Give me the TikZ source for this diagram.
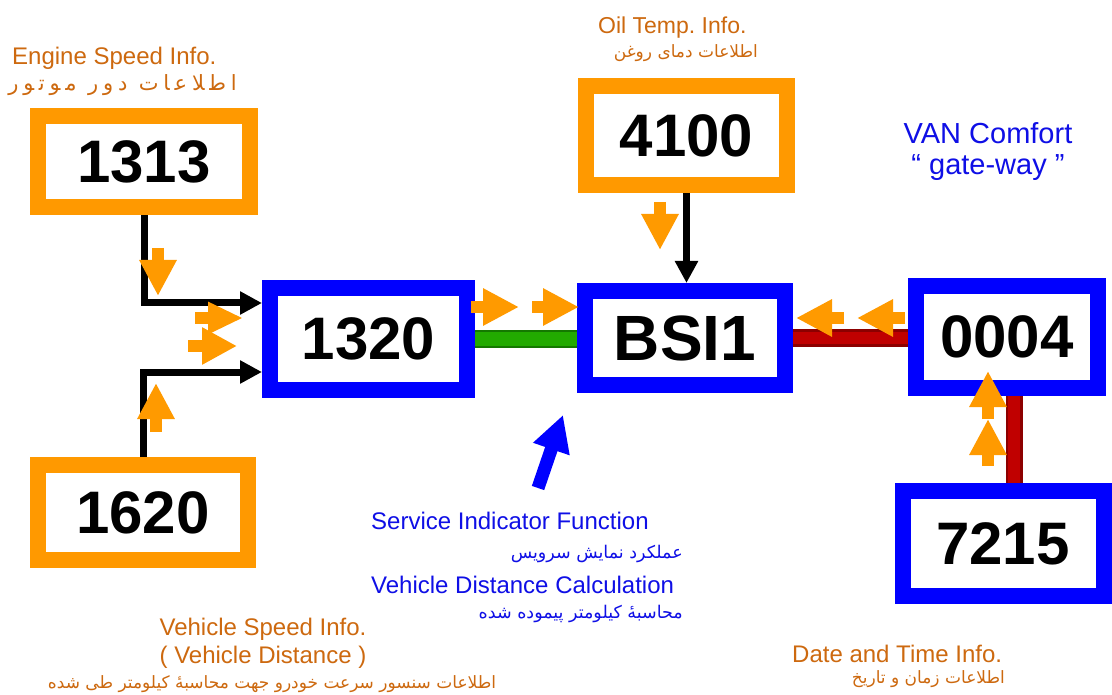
\documentclass[tikz,border=0pt]{standalone}
\usepackage{fontspec}
\setmainfont{Liberation Sans}
\newfontfamily\fa[Script=Arabic]{DejaVu Sans}
\newfontfamily\fawide[Script=Arabic,LetterSpace=23]{DejaVu Sans}
\TeXXeTstate=1
\frenchspacing
\usetikzlibrary{arrows.meta}
\definecolor{boxor}{RGB}{255,153,0}
\definecolor{arrowor}{RGB}{255,154,0}
\definecolor{txtor}{RGB}{205,105,15}
\definecolor{vblue}{RGB}{0,0,255}
\definecolor{tblue}{RGB}{15,15,230}
\definecolor{lgreen}{RGB}{34,170,0}
\definecolor{dgreen}{RGB}{20,120,0}
\definecolor{lred}{RGB}{192,0,0}
\definecolor{dred}{RGB}{140,0,0}
\begin{document}
\begin{tikzpicture}[x=1pt,y=-1pt,
  ecu/.style={draw, line width=16pt, fill=white, inner sep=0pt, outer sep=8pt,
    font=\fontsize{60}{60}\selectfont\bfseries, text=black},
  obox/.style={ecu, draw=boxor},
  bbox/.style={ecu, draw=vblue},
  blk/.style={line width=7pt, black, -{Triangle[length=22pt,width=22pt]}},
  oarr/.style={line width=12pt, arrowor, -{Triangle[length=36pt,width=35pt]}},
  barr/.style={line width=13pt, vblue, -{Triangle[length=36pt,width=36pt]}},
  orlab/.style={text=txtor, inner sep=0pt, font=\fontsize{24}{24}\selectfont},
  blulab/.style={text=tblue, inner sep=0pt, font=\fontsize{24}{24}\selectfont},
  orfa/.style={text=txtor, inner sep=0pt, font=\fontsize{17}{17}\selectfont\fa},
  blufa/.style={text=tblue, inner sep=0pt, font=\fontsize{17.5}{17.5}\selectfont\fa},
  grnline/.style={line width=18pt, dgreen},
  grnin/.style={line width=13pt, lgreen},
  redline/.style={line width=17pt, dred},
  redin/.style={line width=12pt, lred}
]
\useasboundingbox (0,0) rectangle (1112,695);
\fill[white] (0,0) rectangle (1112,695);

% ECU boxes
\node[obox, minimum width=212pt, minimum height=91pt] (n1313) at (144,161.5) {1313};
\node[obox, minimum width=210pt, minimum height=95pt] (n1620) at (143,512.5) {1620};
\node[bbox, minimum width=197pt, minimum height=102pt] (n1320) at (368.5,339) {1320};
\node[bbox, minimum width=200pt, minimum height=94pt, font=\fontsize{64}{64}\selectfont\bfseries] (bsi) at (685,338) {BSI1};
\node[obox, minimum width=201pt, minimum height=99pt] (n4100) at (686.5,135.5) {4100};
\node[bbox, minimum width=182pt, minimum height=102pt] (n0004) at (1007,337) {0004};
\node[bbox, minimum width=201pt, minimum height=105pt] (n7215) at (1003,543.5) {7215};

% connectors
\draw[blk] (n1313.south) |- ([yshift=36pt]n1320.west);
\draw[blk] (n1620.north) |- ([yshift=-33pt]n1320.west);
\draw[blk] (n4100.south) -- (n4100.south |- bsi.north);
\draw[grnline] (n1320.east) -- (n1320.east -| bsi.west);
\draw[grnin] (n1320.east) -- (n1320.east -| bsi.west);
\draw[redline] (bsi.east) -- (bsi.east -| n0004.west);
\draw[redin] (bsi.east) -- (bsi.east -| n0004.west);
\draw[redline] ([xshift=7pt]n0004.south) -- ([xshift=7pt]n0004.south |- n7215.north);
\draw[redin] ([xshift=7pt]n0004.south) -- ([xshift=7pt]n0004.south |- n7215.north);

% orange flow arrows
\draw[oarr] (158,248) -- (158,296);
\draw[oarr, -{Triangle[length=35pt,width=30pt]}] (195,318) -- (243,318);
\draw[oarr, -{Triangle[length=35pt,width=35pt]}] (188,346) -- (237,346);
\draw[oarr] (156,432) -- (156,383);
\draw[oarr] (471,307) -- (519,307);
\draw[oarr] (532,307) -- (579,307);
\draw[oarr] (844,318) -- (796,318);
\draw[oarr] (905,318) -- (857,318);
\draw[oarr] (988,419) -- (988,371);
\draw[oarr] (988,466) -- (988,419);
\draw[oarr] (660,202) -- (660,250);

% blue arrow
\draw[barr] (538,488) -- (563,415);

% labels
\node[orlab, anchor=base west] (engl) at (12,65) {Engine Speed Info.};
\node[orlab, anchor=base east, font=\fontsize{21}{21}\selectfont\fawide] (engfa) at (237,91) {\beginR اطلاعات دور موتور\endR};
\node[orlab, anchor=base west, font=\fontsize{23}{23}\selectfont] (oill) at (598,34) {Oil Temp. Info.};
\node[orfa, anchor=base east] (oilfa) at (758,58) {\beginR اطلاعات دمای روغن\endR};
\node[blulab, anchor=base, font=\fontsize{29}{29}\selectfont] (van1) at (988,144) {VAN Comfort};
\node[blulab, anchor=base, font=\fontsize{29}{29}\selectfont] (van2) at (988,175) {“ gate-way ”};
\node[blulab, anchor=base west] (sif) at (371,529) {Service Indicator Function};
\node[blufa, anchor=base east] (siffa) at (683,558) {\beginR عملکرد نمایش سرویس\endR};
\node[blulab, anchor=base west] (vdc) at (371,593) {Vehicle Distance Calculation};
\node[blufa, anchor=base east] (vdcfa) at (683,618) {\beginR محاسبهٔ کیلومتر پیموده شده\endR};
\node[orlab, anchor=base] (vs1) at (263,635) {Vehicle Speed Info.};
\node[orlab, anchor=base] (vs2) at (263,663) {( Vehicle Distance )};
\node[orfa, anchor=base] (vsfa) at (272,688) {\beginR اطلاعات سنسور سرعت خودرو جهت محاسبهٔ کیلومتر طی شده\endR};
\node[orlab, anchor=base west] (dt) at (792,662) {Date and Time Info.};
\node[orfa, anchor=base east] (dtfa) at (1005,683) {\beginR اطلاعات زمان و تاریخ\endR};
\end{tikzpicture}
\end{document}
